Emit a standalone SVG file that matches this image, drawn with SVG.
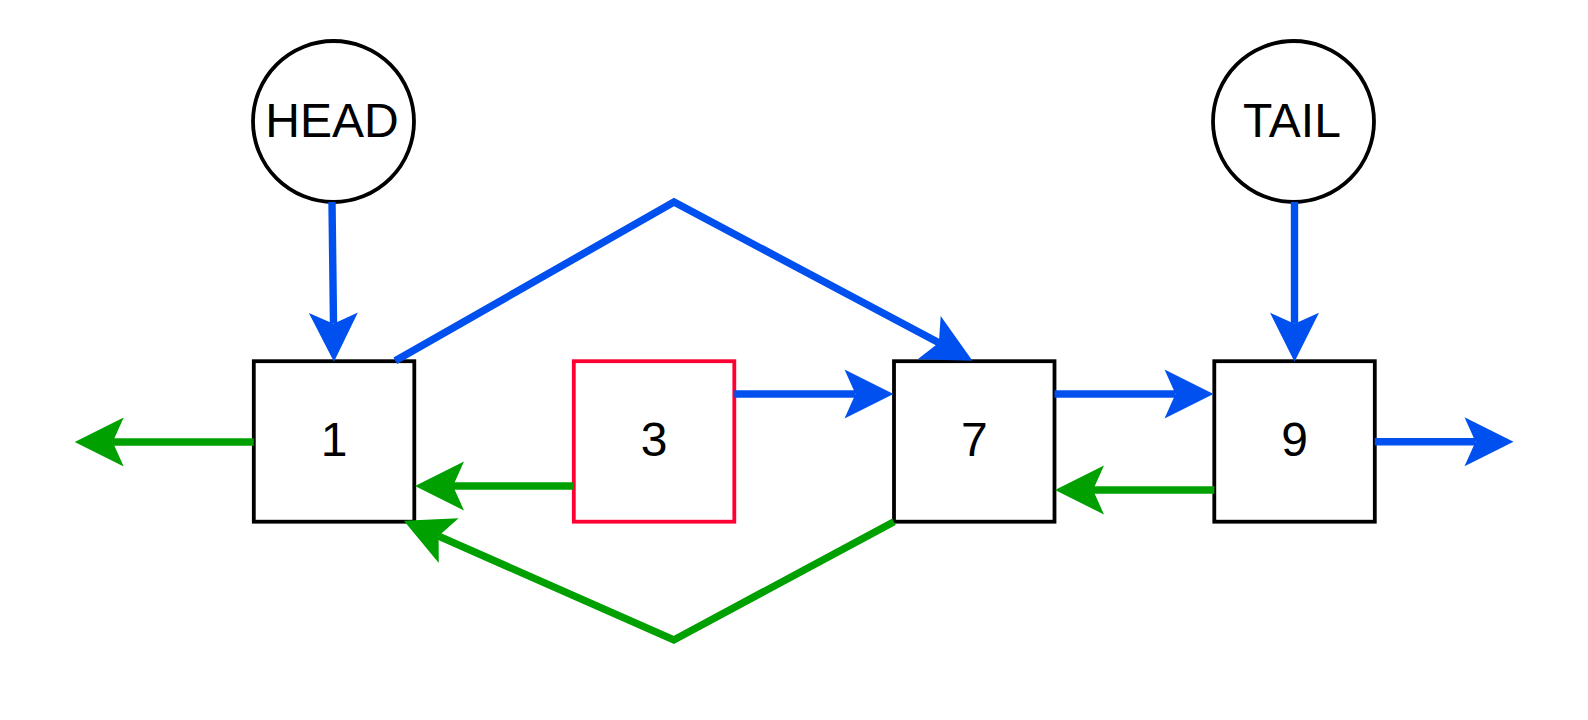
<svg xmlns="http://www.w3.org/2000/svg" width="1588" height="720" viewBox="0 0 1588 720">
  <style>
    .box { fill: #ffffff; stroke: #000000; stroke-width: 3.8; }
    .red { stroke: #ff0033; }
    .circ { fill: #ffffff; stroke: #000000; stroke-width: 3.8; }
    .lbl { font-family: "Liberation Sans", Arial, sans-serif; font-size: 48px; fill: #000000; text-anchor: middle; }
    .blue { fill: none; stroke: #0050ef; stroke-width: 7.4; marker-end: url(#ab); }
    .green { fill: none; stroke: #00a000; stroke-width: 7.4; marker-end: url(#ag); }
  </style>
  <defs>
    <marker id="ab" markerUnits="userSpaceOnUse" markerWidth="80" markerHeight="80" refX="0" refY="0" orient="auto" overflow="visible">
      <path d="M38,0 L-11,-24.5 L0,0 L-11,24.5 Z" fill="#0050ef"/>
    </marker>
    <marker id="ag" markerUnits="userSpaceOnUse" markerWidth="80" markerHeight="80" refX="0" refY="0" orient="auto" overflow="visible">
      <path d="M38,0 L-11,-24.5 L0,0 L-11,24.5 Z" fill="#00a000"/>
    </marker>
  </defs>
  <rect width="1588" height="720" fill="#ffffff"/>

  <g id="head">
    <circle class="circ" cx="333.5" cy="121.5" r="80.5"/>
    <text class="lbl" x="332" y="136.7">HEAD</text>
  </g>
  <g id="tail">
    <circle class="circ" cx="1293.5" cy="121.5" r="80.5"/>
    <text class="lbl" x="1292" y="136.7">TAIL</text>
  </g>
  <g id="node1">
    <rect class="box" x="253.8" y="361.2" width="160.5" height="160.5"/>
    <text class="lbl" x="334" y="456">1</text>
  </g>
  <g id="node3">
    <rect class="box red" x="573.8" y="361.2" width="160.5" height="160.5"/>
    <text class="lbl" x="654" y="456">3</text>
  </g>
  <g id="node7">
    <rect class="box" x="894" y="361.2" width="160.5" height="160.5"/>
    <text class="lbl" x="974.3" y="456">7</text>
  </g>
  <g id="node9">
    <rect class="box" x="1214.3" y="361.2" width="160.5" height="160.5"/>
    <text class="lbl" x="1294.5" y="456">9</text>
  </g>

  <g id="connectors">
    <path class="blue" d="M332,202 L333.5,323.7"/>
    <path class="blue" d="M1294.5,202 L1294.5,323.7"/>
    <path class="blue" d="M395.3,360.7 L674,202 L938.9,342.8"/>
    <path class="blue" d="M734.3,394 L855.5,394"/>
    <path class="blue" d="M1054.5,394 L1175.5,394"/>
    <path class="blue" d="M1374.8,441.7 L1475.5,441.7"/>
    <path class="green" d="M1214.3,490 L1093,490"/>
    <path class="green" d="M573.8,486 L453,486"/>
    <path class="green" d="M253.8,442 L112.7,442"/>
    <path class="green" d="M894,521.7 L673.8,640 L438.6,536.1"/>
  </g>
</svg>
